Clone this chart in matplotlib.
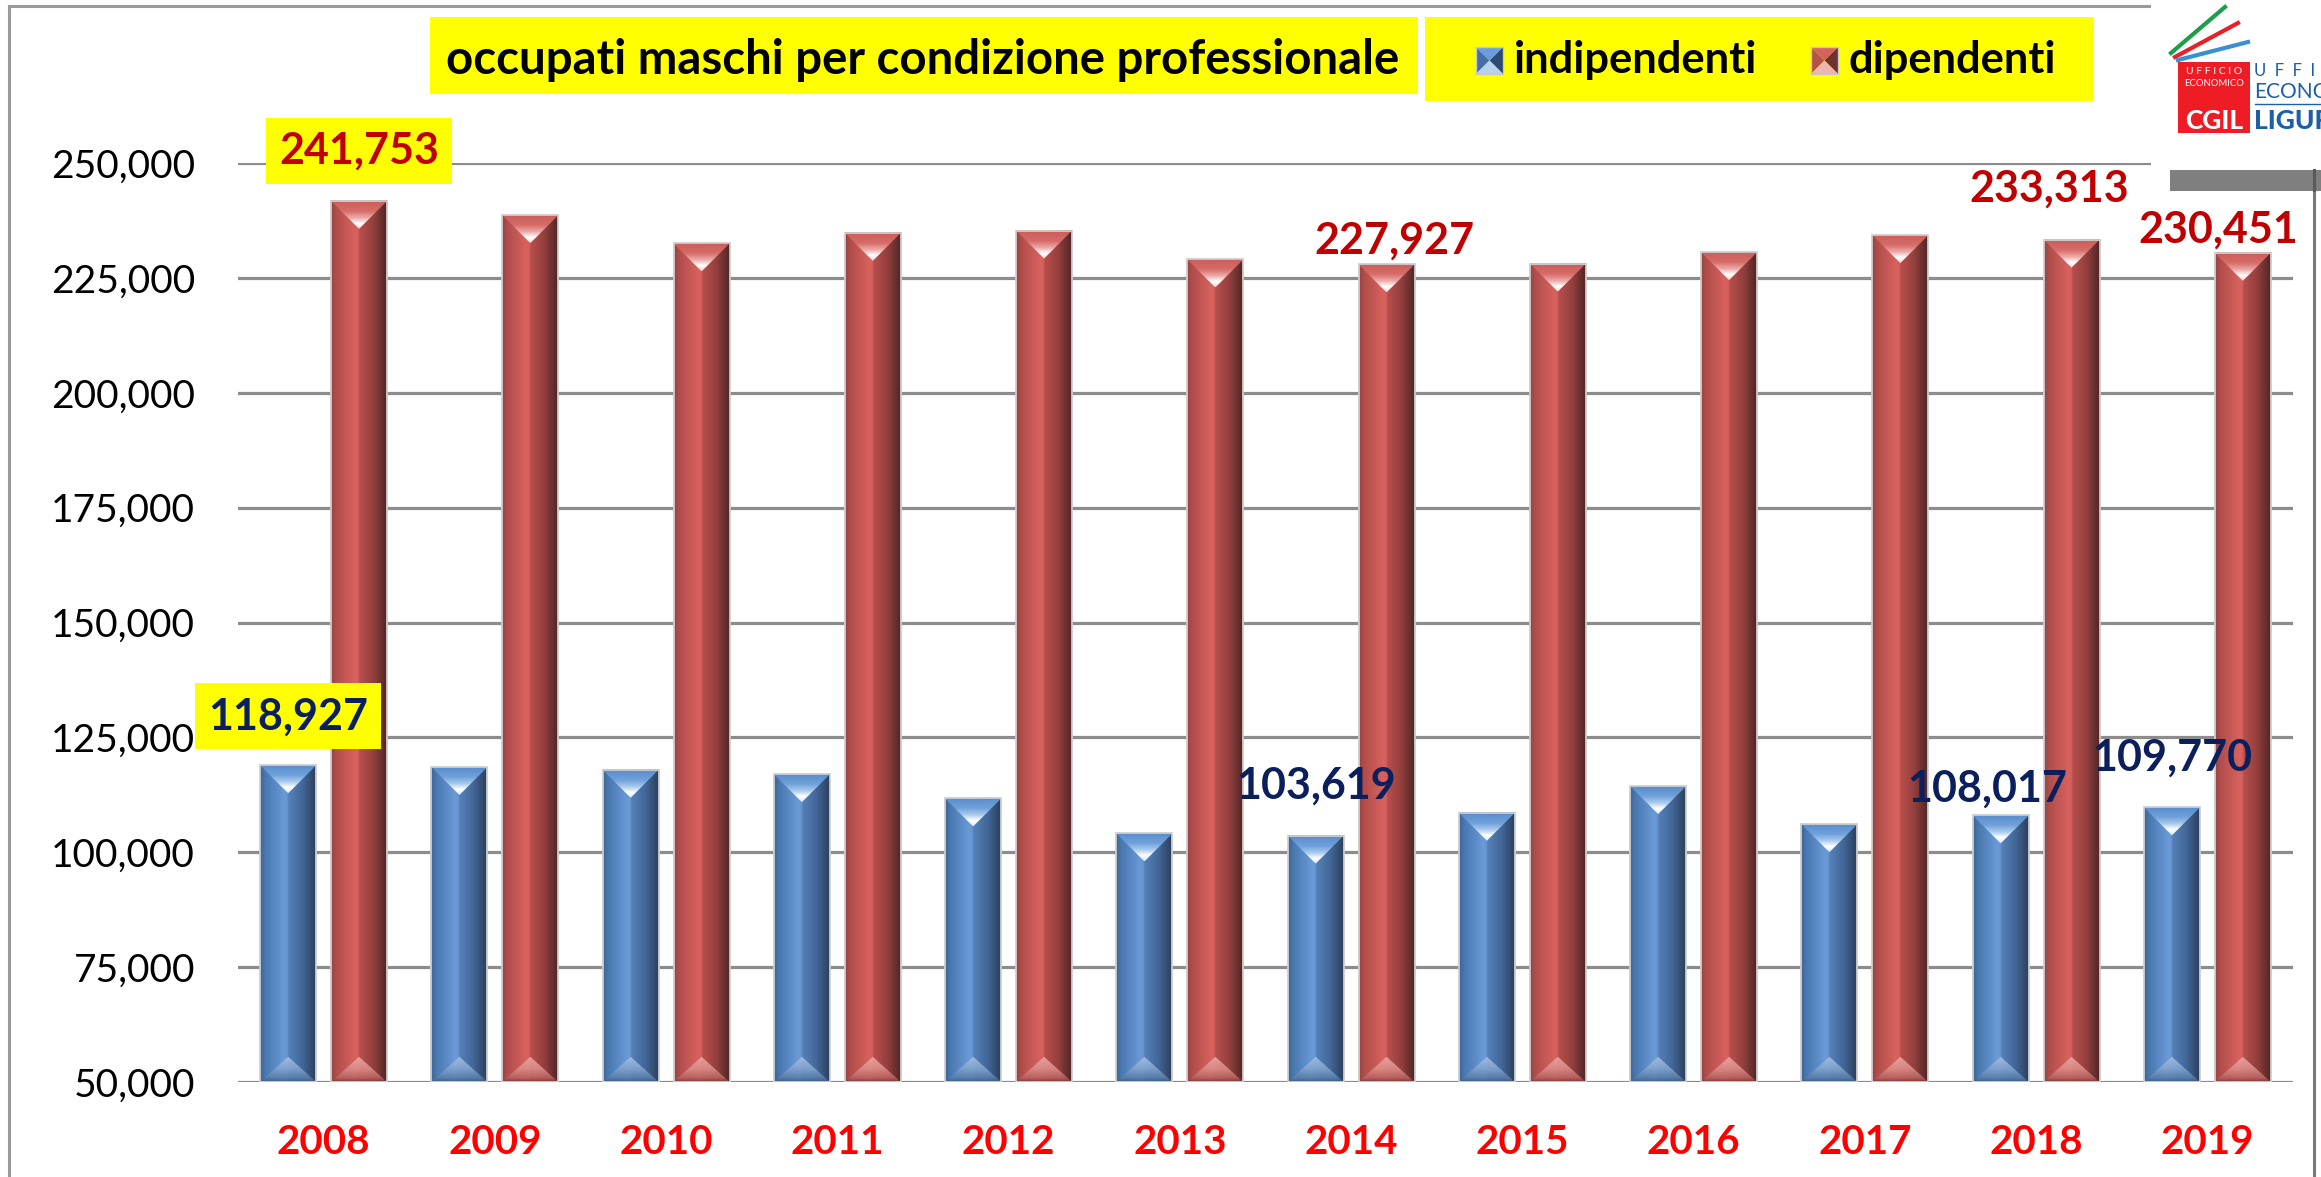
import numpy as np
import matplotlib.pyplot as plt
from matplotlib.patches import Rectangle, Polygon
from matplotlib.colors import LinearSegmentedColormap
from matplotlib.ticker import FuncFormatter, MultipleLocator

# --- data ---
years = ['2008', '2009', '2010', '2011', '2012', '2013',
         '2014', '2015', '2016', '2017', '2018', '2019']
indipendenti = [118927, 118550, 117950, 117000, 111700, 104100,
                103619, 108600, 114400, 106100, 108017, 109770]
dipendenti = [241753, 238650, 232500, 234800, 235300, 229000,
              227927, 228100, 230600, 234300, 233313, 230451]
y_min, y_max, y_step = 50000, 250000, 25000

title = 'occupati maschi per condizione professionale'
series_names = ['indipendenti', 'dipendenti']

# which bars carry a value label: (series, year index, dx px, dy px, yellow box)
labels = [
    (0, 0, 0, 49, True), (1, 0, 0, 50, True),
    (1, 6, 8, 24, False), (1, 10, -22, 51, False), (1, 11, -25, 23, False),
    (0, 6, 0, 50, False), (0, 10, -13, 27, False), (0, 11, 0, 50, False),
]

W, H, DPI = 2321, 1177, 100
plt.rcParams['font.family'] = ['Lato', 'DejaVu Sans']

fig = plt.figure(figsize=(W / DPI, H / DPI), dpi=DPI)
fig.patch.set_facecolor('white')

# background layer in pixel coordinates (frame, title, legend)
bg = fig.add_axes([0, 0, 1, 1])
bg.set_xlim(0, W)
bg.set_ylim(H, 0)
bg.axis('off')

frame_c = '#9a9a9a'
bg.plot([9, 9], [6, H], color=frame_c, lw=2.2)
bg.plot([9, 2151], [6, 6], color=frame_c, lw=2.2)
bg.plot([2314, 2314], [170, H], color='#7a7a7a', lw=2.2)

renderer = fig.canvas.get_renderer()


def fit_width(t, target):
    bb = t.get_window_extent(renderer)
    t.set_fontsize(t.get_fontsize() * target / bb.width)


bg.add_patch(Rectangle((430, 17), 988, 77, fc='#ffff00', ec='none'))
bg.add_patch(Rectangle((1425, 17), 669, 84, fc='#ffff00', ec='none'))
t = bg.text(446, 60, title, fontsize=30, fontweight='bold', color='black',
            ha='left', va='center')
fit_width(t, 954)

marker_cols = {
    0: ('#4470a8', '#2d4a70', '#6c9ddb', '#b9d1ec'),
    1: ('#b5524f', '#6f3230', '#d6625f', '#eeb4b1'),
}
for i, (mx, tx, tw) in enumerate([(1476, 1514, 243), (1811, 1848, 207)]):
    x0, y0, s = mx, 47, 27
    cx, cy = x0 + s / 2, y0 + s / 2
    left, right, top, bot = marker_cols[i]
    bg.add_patch(Polygon([(x0, y0), (cx, cy), (x0, y0 + s)], fc=left, ec='none'))
    bg.add_patch(Polygon([(x0 + s, y0), (cx, cy), (x0 + s, y0 + s)], fc=right, ec='none'))
    bg.add_patch(Polygon([(x0, y0), (cx, cy), (x0 + s, y0)], fc=top, ec='none'))
    bg.add_patch(Polygon([(x0, y0 + s), (cx, cy), (x0 + s, y0 + s)], fc=bot, ec='none'))
    bg.add_patch(Rectangle((x0, y0), s, s, fc='none', ec='#c8c8c8', lw=1))
    lt = bg.text(tx, 60, series_names[i], fontsize=30, fontweight='bold',
                 color='black', ha='left', va='center')
    fit_width(lt, tw)

# --- main chart ---
ax = fig.add_axes([238 / W, 1 - 1082 / H, (2293 - 238) / W, (1082 - 163) / H])
ax.set_facecolor('none')
for s in ax.spines.values():
    s.set_visible(False)

x = np.arange(len(years))
bw, off = 0.327, 0.207
bars_i = ax.bar(x - off, np.array(indipendenti) - y_min, bw, bottom=y_min,
                color='none', edgecolor='#cfcfcf', lw=1.3, zorder=3)
bars_d = ax.bar(x + off, np.array(dipendenti) - y_min, bw, bottom=y_min,
                color='none', edgecolor='#cfcfcf', lw=1.3, zorder=3)

ax.set_xlim(-0.5, len(years) - 0.5)
ax.set_ylim(y_min, y_max)
ax.yaxis.set_major_locator(MultipleLocator(y_step))
ax.yaxis.set_major_formatter(FuncFormatter(lambda v, p: f'{int(v):,}'))
ax.grid(axis='y', color='#8c8c8c', lw=2.3)
ax.set_axisbelow(True)
ax.set_xticks(x)
ax.set_xticklabels(years)
ax.tick_params(axis='y', length=0, pad=31, labelsize=28, labelcolor='black')
ax.tick_params(axis='x', length=0, pad=30, labelsize=29, labelcolor='#ff0000')
for lab in ax.get_xticklabels():
    lab.set_fontweight('bold')

ax_h_px = (1082 - 163)
units_per_px = (y_max - y_min) / ax_h_px
cat_px = (2293 - 238) / len(years)


def cmap(cols):
    return LinearSegmentedColormap.from_list('c', cols, N=256)


styles = {
    0: dict(
        body=cmap([(0, '#3d6699'), (0.1, '#4a78b1'), (0.44, '#6a9bd8'),
                   (0.5, '#6394d0'), (0.505, '#5581b9'), (0.75, '#43689a'),
                   (1, '#2b405c')]),
        top=cmap([(0, '#5a8dcc'), (0.35, '#6fa0db'), (0.6, '#a9cbee'),
                  (0.8, '#ffffff'), (1, '#dcebfa')]),
        bot=cmap([(0, '#a9c3e4'), (0.5, '#80a2cd'), (0.85, '#587ca9'),
                  (1, '#3c5a80')]),
    ),
    1: dict(
        body=cmap([(0, '#9a4341'), (0.1, '#b14e4b'), (0.44, '#d9625f'),
                   (0.5, '#d35e5b'), (0.505, '#b84f4c'), (0.75, '#95403e'),
                   (1, '#4f2625')]),
        top=cmap([(0, '#cb5e5b'), (0.35, '#d66b68'), (0.6, '#eda9a7'),
                  (0.8, '#ffffff'), (1, '#f5d5d4')]),
        bot=cmap([(0, '#ebaaa6'), (0.5, '#dc8b87'), (0.85, '#b5615e'),
                  (1, '#7a3533')]),
    ),
}

hgrad = np.linspace(0, 1, 256).reshape(1, -1)
vgrad = np.linspace(0, 1, 128).reshape(-1, 1)
for si, bars in enumerate([bars_i, bars_d]):
    st = styles[si]
    for p in bars:
        x0, y0 = p.get_x(), p.get_y()
        x1, y1 = x0 + p.get_width(), y0 + p.get_height()
        xc = (x0 + x1) / 2
        d = p.get_width() * cat_px / 2 * units_per_px
        ax.imshow(hgrad, cmap=st['body'], extent=[x0, x1, y0, y1],
                  aspect='auto', interpolation='bilinear', zorder=2)
        tri = Polygon([(x0, y1), (x1, y1), (xc, y1 - d)], fc='none', ec='none')
        ax.add_patch(tri)
        im = ax.imshow(vgrad, cmap=st['top'], extent=[x0, x1, y1 - d, y1],
                       origin='upper', aspect='auto', interpolation='bilinear',
                       zorder=2.2)
        im.set_clip_path(tri)
        tri_b = Polygon([(x0, y0), (x1, y0), (xc, y0 + d * 0.9)], fc='none', ec='none')
        ax.add_patch(tri_b)
        im = ax.imshow(vgrad, cmap=st['bot'], extent=[x0, x1, y0, y0 + d * 0.9],
                       origin='upper', aspect='auto', interpolation='bilinear',
                       zorder=2.2, alpha=0.9)
        im.set_clip_path(tri_b)

ax.set_xlim(-0.5, len(years) - 0.5)
ax.set_ylim(y_min, y_max)

label_cols = {0: '#0b1f5c', 1: '#c00000'}
series = [indipendenti, dipendenti]
for si, yi, dx, dy, boxed in labels:
    bars = bars_i if si == 0 else bars_d
    p = bars[yi]
    xc = p.get_x() + p.get_width() / 2
    val = series[si][yi]
    kw = {}
    if boxed:
        kw['bbox'] = dict(boxstyle='square,pad=0.3', fc='#ffff00', ec='none')
    ax.annotate(f'{val:,}', xy=(xc, val), xytext=(dx * 0.72, dy * 0.72),
                textcoords='offset points', ha='center', va='center',
                fontsize=31, fontweight='bold', color=label_cols[si],
                zorder=6, annotation_clip=False, **kw)

# --- logo in the top right corner (cropped at the picture edge, as in the source) ---
lg = fig.add_axes([2151 / W, 1 - 192 / H, (W - 2151) / W, 192 / H])
lg.set_xlim(2151, W)
lg.set_ylim(192, 0)
lg.axis('off')
lg.add_patch(Rectangle((2151, 0), W - 2151, 170, fc='white', ec='none'))
lg.add_patch(Rectangle((2170, 170), W - 2170, 21, fc='#7f7f7f', ec='none'))
lg.plot([2314, 2314], [170, 192], color='#5a5a5a', lw=2.2)
lg.plot([2171, 2225], [53, 7], color='#1e9e4a', lw=3)
lg.plot([2175, 2238], [57, 23], color='#e8202a', lw=3)
lg.plot([2178, 2248], [60, 42], color='#3a8fd0', lw=3)
lg.add_patch(Rectangle((2178, 62), 72, 71, fc='#ee1c25', ec='none'))
lg.text(2214, 72, 'U F F I C I O', color='white', fontsize=7.5, ha='center', va='center')
lg.text(2214, 83, 'ECONOMICO', color='white', fontsize=6.8, ha='center', va='center')
lg.text(2214, 121, 'CGIL', color='white', fontsize=19, fontweight='black',
        ha='center', va='center')
lg.text(2254, 71, 'U  F  F  I  C  I  O', color='#1a5fa8', fontsize=12, ha='left',
        va='center', clip_on=True)
lg.text(2254, 92, 'ECONOMICO', color='#1a5fa8', fontsize=15, ha='left', va='center',
        clip_on=True)
lg.plot([2255, W], [104, 104], color='#1a5fa8', lw=1)
lg.text(2254, 121, 'LIGURIA', color='#1a5fa8', fontsize=19, fontweight='black',
        ha='left', va='center', clip_on=True)

fig.savefig('out.png', dpi=DPI, facecolor='white')
